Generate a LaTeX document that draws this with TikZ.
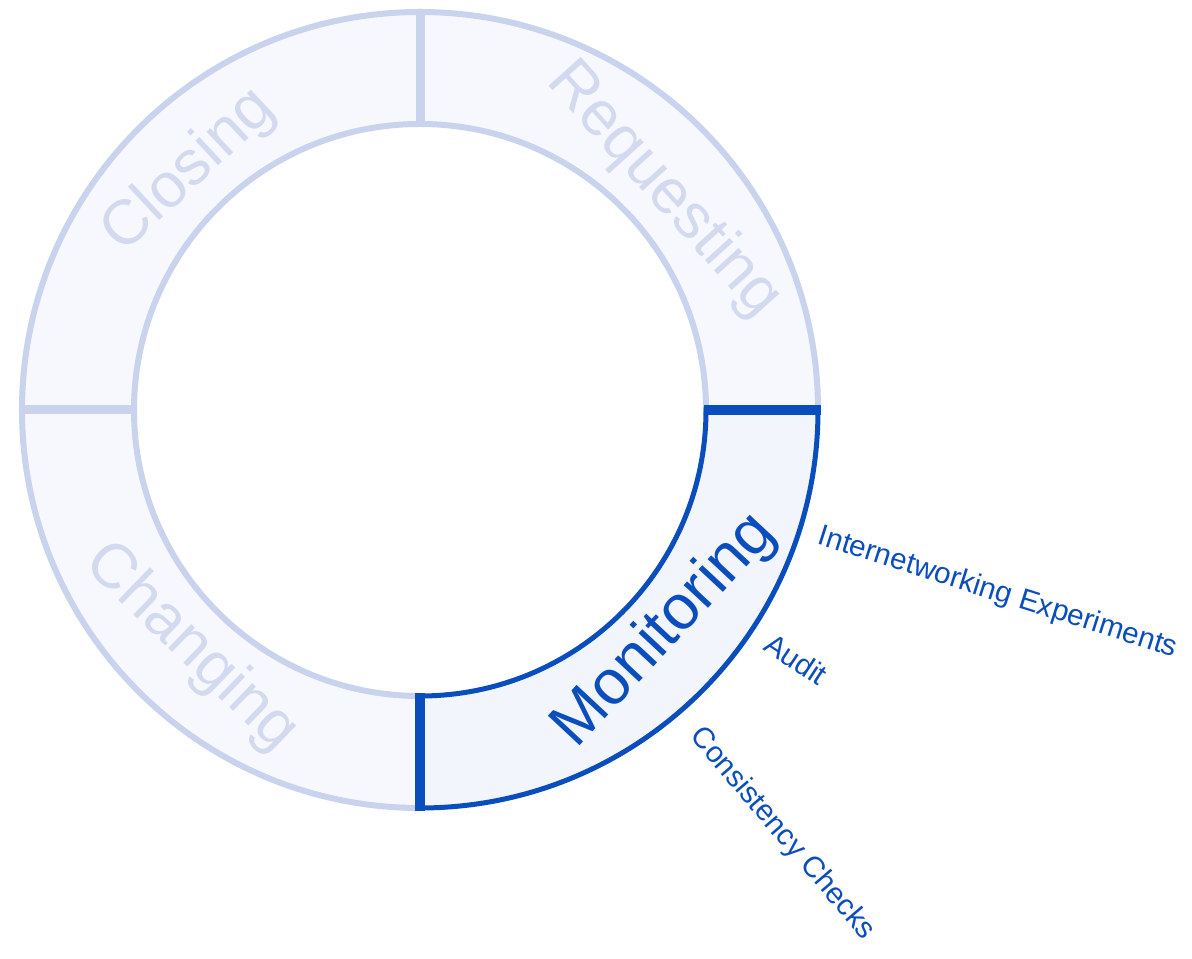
\documentclass[tikz,border=0pt]{standalone}
\usepackage{fontspec}
\setmainfont{Liberation Sans}
\usetikzlibrary{calc}
\definecolor{ringgrey}{HTML}{C9D3EE}
\definecolor{ringfill}{HTML}{F7F8FD}
\definecolor{labelgrey}{HTML}{D3DAEF}
\definecolor{monblue}{HTML}{0A4DBD}
\definecolor{monfill}{HTML}{F2F5FC}
\def\ringpart[#1](#2:#3){\draw[#1] (#2:286) -- (#2:398) arc (#2:#3:398) -- (#3:286) arc (#3:#2:286) -- cycle;}
\tikzset{
  phase/.style={font=\fontsize{31.5}{36}\selectfont, inner sep=0pt},
  task/.style={font=\fontsize{14.8}{18}\selectfont, text=monblue, inner sep=0pt, anchor=west}
}

\begin{document}
\begin{tikzpicture}[x=0.5pt, y=0.5pt]
			%%%%% START %%%%%
			\useasboundingbox (0, 0) rectangle (1192, 958);
			
			\begin{scope}[shift={(420, 548)}]
			\ringpart[fill=ringfill, draw=ringgrey, line width=3pt](0:90)
			\ringpart[fill=ringfill, draw=ringgrey, line width=3pt](90:180)
			\ringpart[fill=ringfill, draw=ringgrey, line width=3pt](180:270)
			\draw[ringgrey, line width=4.5pt] (90:286) -- (90:398);
			\draw[ringgrey, line width=4.5pt] (180:286) -- (180:398);
			
			\ringpart[fill=monfill, draw=monblue, line width=2.5pt](270:360)
			\draw[monblue, line width=5pt] (0:283.5) -- (0:400.5);
			\draw[monblue, line width=5pt] (270:283.5) -- (270:400.5);
			
			\node[phase, text=labelgrey, rotate=-48] (requesting) at (42:328) {Requesting};
			\node[phase, text=labelgrey, rotate=43] (closing) at (134:332) {Closing};
			\node[phase, text=labelgrey, rotate=-44] (changing) at (226:330) {Changing};
			\node[phase, text=monblue, rotate=47] (monitoring) at (-42:330) {Monitoring};
			
			\node[task, rotate=-17.6] (experiments) at (-17.6:418) {Internetworking Experiments};
			\node[task, rotate=-33.5] (audit) at (-33.5:417) {Audit};
			\node[task, rotate=-49.5] (checks) at (-49.5:423) {Consistency Checks};
			\end{scope}
			
			%%%%% END %%%%%
\end{tikzpicture}
\end{document}
